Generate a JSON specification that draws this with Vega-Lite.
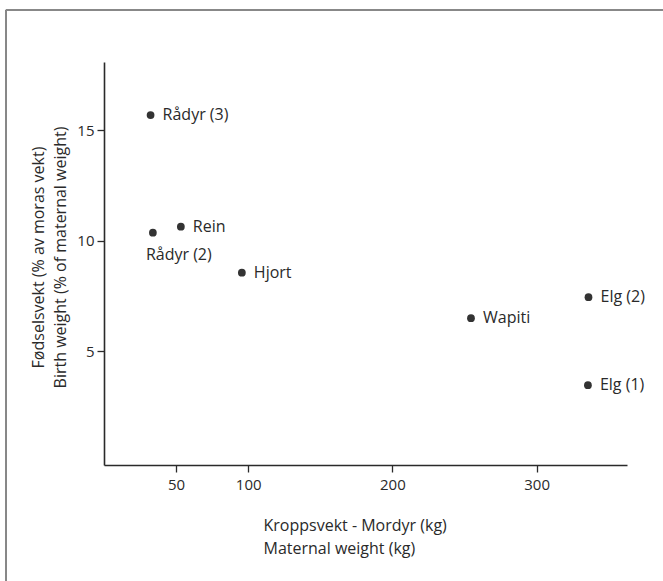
{
  "$schema": "https://vega.github.io/schema/vega-lite/v6.json",
  "width": 523,
  "height": 403,
  "autosize": "none",
  "padding": {"left": 104, "top": 62, "right": 36, "bottom": 116},
  "background": "white",
  "config": {
    "view": {"stroke": null},
    "font": "Open Sans",
    "axis": {
      "grid": false,
      "domainColor": "#2a2a2a",
      "domainWidth": 1.6,
      "tickColor": "#2a2a2a",
      "tickWidth": 1.3,
      "labelColor": "#2a2a2a",
      "titleColor": "#2a2a2a",
      "labelFont": "Open Sans",
      "titleFont": "Open Sans",
      "labelFontSize": 15,
      "titleFontSize": 16,
      "titleFontWeight": "normal"
    }
  },
  "data": {
    "values": [
      {"name": "Rådyr (3)", "weight": 32.3, "birth": 15.68},
      {"name": "Rådyr (2)", "weight": 33.9, "birth": 10.36},
      {"name": "Rein", "weight": 53.3, "birth": 10.63},
      {"name": "Hjort", "weight": 95.6, "birth": 8.55},
      {"name": "Wapiti", "weight": 254.5, "birth": 6.49},
      {"name": "Elg (2)", "weight": 336, "birth": 7.44},
      {"name": "Elg (1)", "weight": 335.6, "birth": 3.46}
    ]
  },
  "encoding": {
    "x": {
      "field": "weight",
      "type": "quantitative",
      "scale": {"domain": [0, 362.7], "nice": false, "zero": false},
      "axis": {
        "values": [50, 100, 200, 300],
        "tickSize": 7,
        "labelPadding": 5,
        "title": ["Kroppsvekt - Mordyr (kg)", "Maternal weight (kg)"],
        "titleAlign": "left",
        "titleAnchor": "start",
        "titleBaseline": "top",
        "titleX": 159,
        "titleY": 52,
        "titleLineHeight": 23
      }
    },
    "y": {
      "field": "birth",
      "type": "quantitative",
      "scale": {"domain": [-0.15, 18.08], "nice": false, "zero": false},
      "axis": {
        "values": [5, 10, 15],
        "tickSize": 7,
        "labelPadding": 3,
        "title": ["Fødselsvekt (% av moras vekt)", "Birth weight (% of maternal weight)"],
        "titleAngle": 270,
        "titleAlign": "center",
        "titleBaseline": "top",
        "titleX": -74,
        "titleY": 195,
        "titleLineHeight": 22
      }
    }
  },
  "layer": [
    {
      "mark": {"type": "rule", "color": "#888", "strokeWidth": 1.5},
      "encoding": {
        "x": {"datum": -68, "type": "quantitative"},
        "y": {"datum": -5.4, "type": "quantitative"},
        "y2": {"datum": 20.43}
      }
    },
    {
      "mark": {"type": "rule", "color": "#888", "strokeWidth": 1.5},
      "encoding": {
        "x": {"datum": -68, "type": "quantitative"},
        "x2": {"datum": 387.6},
        "y": {"datum": 20.43, "type": "quantitative"}
      }
    },
    {
      "mark": {"type": "point", "filled": true, "color": "#333", "size": 60, "opacity": 1}
    },
    {
      "transform": [{"filter": "datum.name !== 'Rådyr (2)'"}],
      "mark": {"type": "text", "align": "left", "baseline": "middle", "dx": 12, "fontSize": 16, "color": "#2a2a2a", "font": "Open Sans"},
      "encoding": {"text": {"field": "name"}}
    },
    {
      "transform": [{"filter": "datum.name === 'Rådyr (2)'"}],
      "mark": {"type": "text", "align": "left", "baseline": "middle", "dx": -7, "dy": 22, "fontSize": 16, "color": "#2a2a2a", "font": "Open Sans"},
      "encoding": {"text": {"field": "name"}}
    }
  ]
}
